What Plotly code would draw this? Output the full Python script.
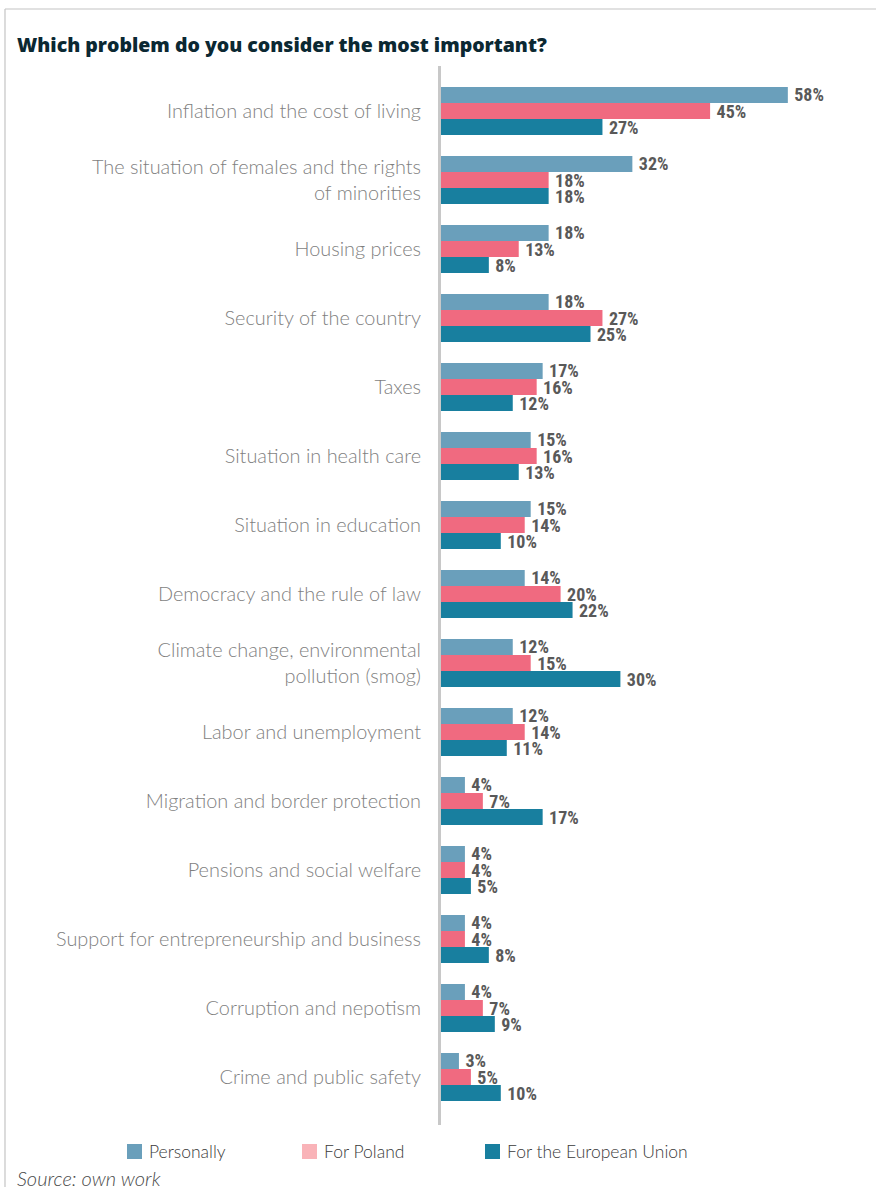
import plotly.graph_objects as go

categories = [
    "Inflation and the cost of living",
    "The situation of females and the rights<br>of minorities",
    "Housing prices",
    "Security of the country",
    "Taxes",
    "Situation in health care",
    "Situation in education",
    "Democracy and the rule of law",
    "Climate change, environmental<br>pollution (smog)",
    "Labor and unemployment",
    "Migration and border protection",
    "Pensions and social welfare",
    "Support for entrepreneurship and business",
    "Corruption and nepotism",
    "Crime and public safety",
]
personally = [58, 32, 18, 18, 17, 15, 15, 14, 12, 12, 4, 4, 4, 4, 3]
for_poland = [45, 18, 13, 27, 16, 16, 14, 20, 15, 14, 7, 4, 4, 7, 5]
for_eu = [27, 18, 8, 25, 12, 13, 10, 22, 30, 11, 17, 5, 8, 9, 10]
series_names = ["Personally", "For Poland", "For the European Union"]

W, H = 876, 1187
PL, PR, PT, PB = 441, 870, 66, 1125   # plot area in pixels
PX_PER_PCT = 5.98

bar_colors = ["#6a9fbb", "#f06a80", "#187f9f"]
legend_colors = ["#6a9fbb", "#f9b3b8", "#187f9f"]

label_font = dict(family="Roboto Condensed, Liberation Sans Narrow, DejaVu Sans Condensed, sans-serif",
                  size=18, color="#595959", weight="bold")

fig = go.Figure()
for name, vals, col in zip(series_names, [personally, for_poland, for_eu], bar_colors):
    fig.add_trace(go.Bar(
        y=categories, x=vals, orientation="h", name=name,
        marker=dict(color=col, line=dict(width=0)),
        text=[f"\u2009{v}%" for v in vals], textposition="outside",
        textfont=label_font, constraintext="none", cliponaxis=False,
        showlegend=False,
    ))

def px_x(px):
    return (px - PL) / (PR - PL)

def px_y(py):
    return (PB - py) / (PB - PT)

n = len(categories)
cat_h = 69.0
y_top = -(111 - PT) / cat_h
y_bot = (n - 1) + (PB - (111 + cat_h * (n - 1))) / cat_h

shapes = [
    # frame lines
    dict(type="line", xref="paper", yref="paper", x0=px_x(5), x1=px_x(W + 5),
         y0=px_y(9), y1=px_y(9), line=dict(color="#c4c4c4", width=1.2)),
    dict(type="line", xref="paper", yref="paper", x0=px_x(5), x1=px_x(5),
         y0=px_y(9), y1=px_y(H + 5), line=dict(color="#c4c4c4", width=1.2)),
]
annotations = [
    dict(text="Which problem do you consider the most important?", xref="paper", yref="paper",
         x=px_x(15), y=px_y(45), xanchor="left", yanchor="middle", showarrow=False,
         font=dict(family="Open Sans, sans-serif", size=19.5, color="#0b2832", weight=800)),
    dict(text="<i>Source: own work</i>", xref="paper", yref="paper",
         x=px_x(15), y=px_y(1178), xanchor="left", yanchor="middle", showarrow=False,
         font=dict(family="Lato, sans-serif", size=20, color="#4a4a4a", weight=300)),
]
legend_x = [127, 302, 485]
for lx, name, col in zip(legend_x, series_names, legend_colors):
    shapes.append(dict(type="rect", xref="paper", yref="paper",
                       x0=px_x(lx), x1=px_x(lx + 15), y0=px_y(1159), y1=px_y(1144),
                       fillcolor=col, line=dict(width=0)))
    annotations.append(dict(text=name, xref="paper", yref="paper",
                            x=px_x(lx + 20), y=px_y(1151.5), xanchor="left", yanchor="middle",
                            showarrow=False,
                            font=dict(family="Lato, sans-serif", size=17.5, color="#3a3a3a",
                                      weight=300)))

fig.update_layout(
    width=W, height=H,
    margin=dict(l=PL, r=W - PR, t=PT, b=H - PB, pad=0),
    paper_bgcolor="white", plot_bgcolor="white",
    barmode="group", bargap=0.304, bargroupgap=0,
    xaxis=dict(range=[0, (PR - PL) / PX_PER_PCT], visible=False, fixedrange=True),
    yaxis=dict(type="category", range=[y_bot, y_top], showline=True, linecolor="#c8c8c8",
               linewidth=3, showgrid=False, zeroline=False, ticks="",
               ticklabelstandoff=13,
               tickfont=dict(family="Lato, sans-serif", size=19.9, color="#7f7f7f", weight=300)),
    shapes=shapes, annotations=annotations,
    font=dict(family="Lato, sans-serif"),
)

fig.write_html("out.html")
